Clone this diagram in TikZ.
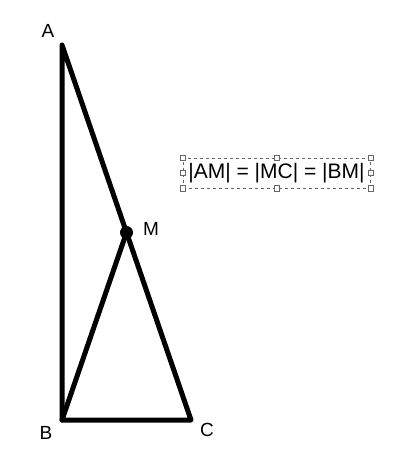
\documentclass[tikz,border=0pt]{standalone}
\usepackage{fontspec}
\setmainfont{Liberation Sans}
\begin{document}
\begin{tikzpicture}[x=1pt,y=-1pt,
  seg/.style={line width=5pt,line cap=round,line join=round},
  lbl/.style={font=\fontsize{19}{22}\selectfont,inner sep=0pt},
  handle/.style={draw=black!60,fill=white,line width=0.6pt,minimum size=5pt,inner sep=0pt,rectangle}]
\useasboundingbox (0,0) rectangle (405,462);
\coordinate (A) at (62,45);
\coordinate (B) at (62,420);
\coordinate (C) at (191,420);
\coordinate (M) at (126.5,232.5);
\draw[seg] (A) -- (B) -- (C) -- cycle;
\draw[seg] (B) -- (M);
\fill (M) circle (6.5pt);
\node[lbl] (lA) at (48,31) {A};
\node[lbl] (lB) at (46,433) {B};
\node[lbl] (lC) at (207,430) {C};
\node[lbl] (lM) at (151,229) {M};
\node[draw=black!60,dashed,line width=0.6pt,minimum width=187pt,minimum height=30pt,inner sep=0pt,
  font=\fontsize{21}{24}\selectfont] (box) at (276.5,173) {|AM| = |MC| = |BM|};
\foreach \p in {north west,north,north east,east,south east,south,south west,west}
  \node[handle] (h\p) at (box.\p) {};
\end{tikzpicture}
\end{document}
